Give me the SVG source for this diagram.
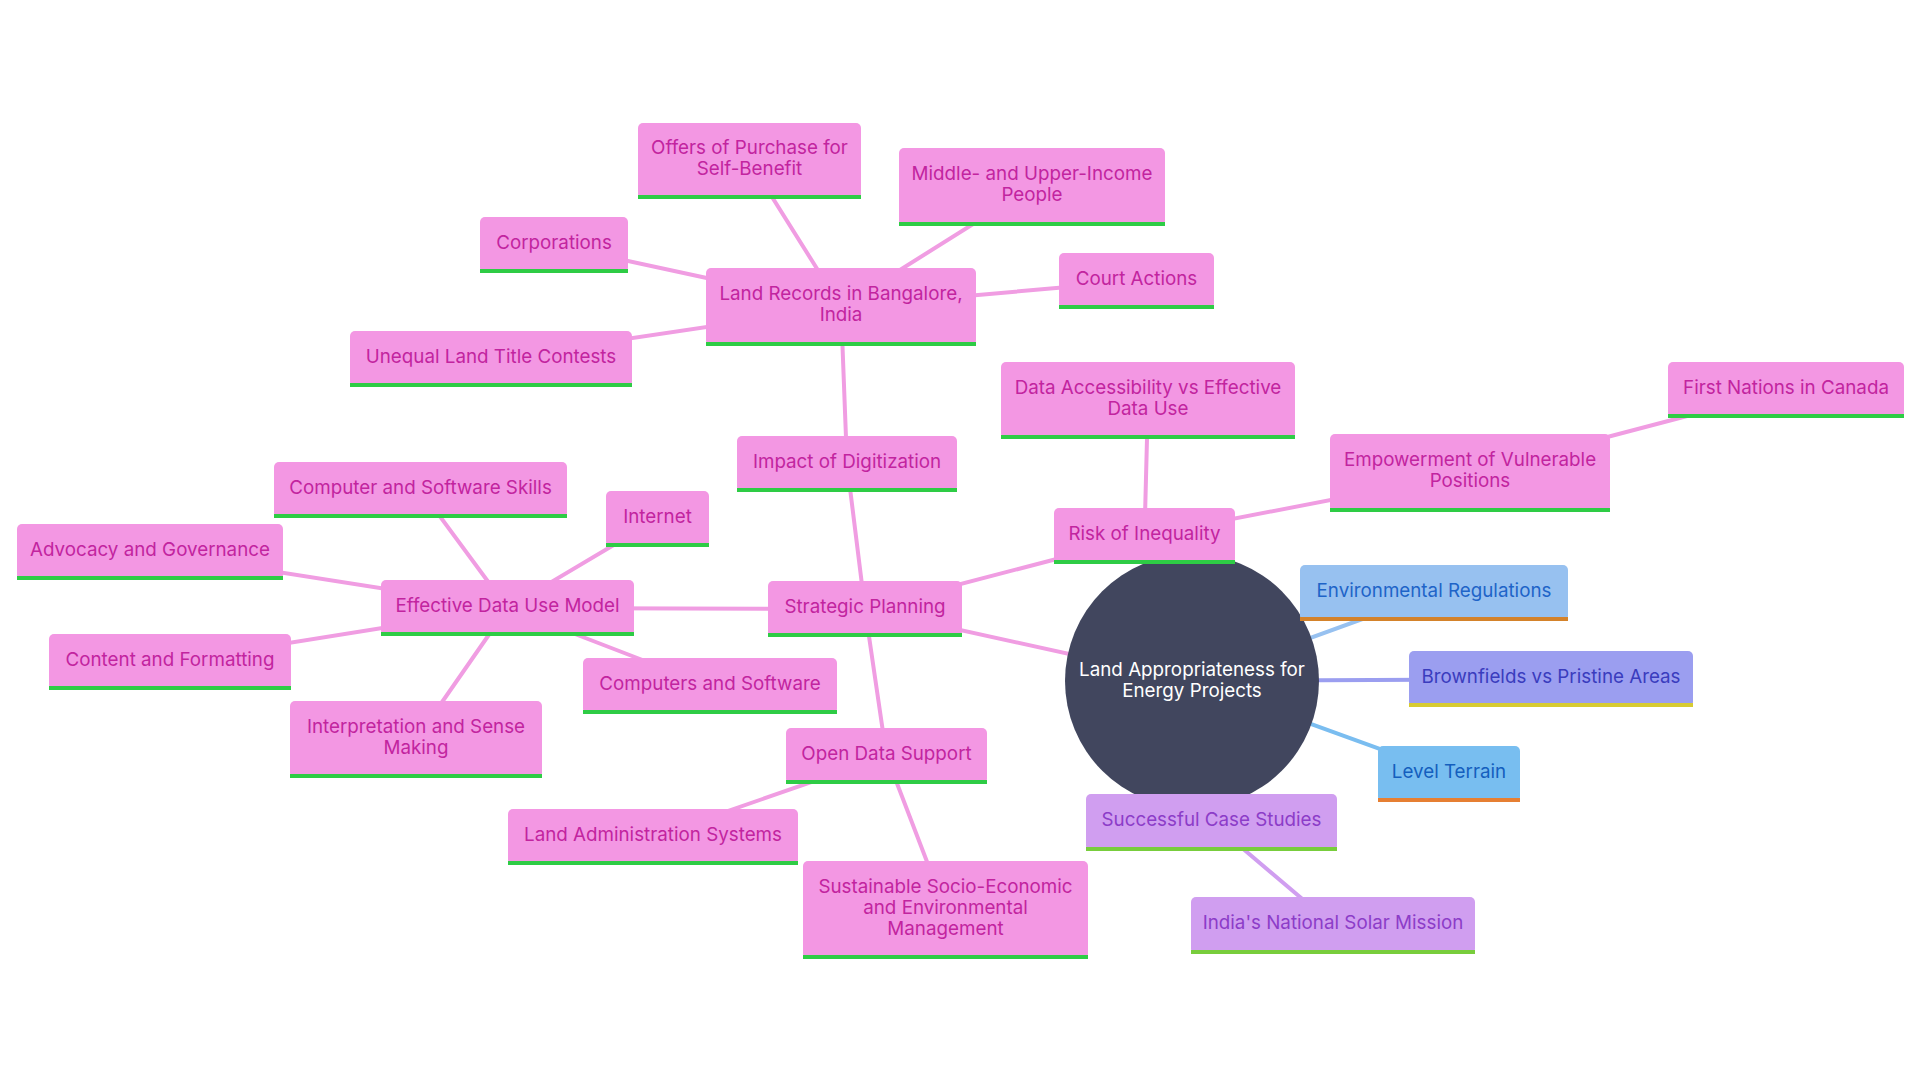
<svg xmlns="http://www.w3.org/2000/svg" width="1920" height="1080" viewBox="0 0 1920 1080">
<style>
text{font-family:Inter,"Noto Sans","Liberation Sans",sans-serif;font-size:18.8px;text-anchor:middle;dominant-baseline:central;transform:translateY(-1px)}
.edges line{stroke-width:4;stroke-linecap:round}
.e-pink{stroke:#F09DE2}
.e-env{stroke:#97C1F0}
.e-brown{stroke:#9B9EF0}
.e-level{stroke:#7ABDF0}
.e-purple{stroke:#D09EF0}
.pink .box{fill:#F397E3}.pink .bar{fill:#2ECC45}.pink text{fill:#C2249F}
.env .box{fill:#97C1F0}.env .bar{fill:#D4822A}.env text{fill:#1E64C8}
.brown .box{fill:#9B9EF0}.brown .bar{fill:#D7CB32}.brown text{fill:#3A3CBE}
.level .box{fill:#78BEF0}.level .bar{fill:#E67F32}.level text{fill:#145FBE}
.purple .box{fill:#D09EF0}.purple .bar{fill:#78CD3C}.purple text{fill:#8C3CC8}
.root circle{fill:#41465E}.root text{fill:#FFFFFF}
</style>
<rect width="1920" height="1080" fill="#FFFFFF"/>
<g id="connectors" class="edges">
<line class="e-pink" x1="1192" y1="681" x2="865" y2="609"/>
<line class="e-env" x1="1192" y1="681" x2="1434" y2="593"/>
<line class="e-brown" x1="1192" y1="681" x2="1551" y2="679"/>
<line class="e-level" x1="1192" y1="681" x2="1449" y2="774"/>
<line class="e-purple" x1="1192" y1="681" x2="1211.5" y2="822"/>
<line class="e-purple" x1="1211.5" y1="822" x2="1333" y2="925"/>
<line class="e-pink" x1="865" y1="609" x2="847" y2="464"/>
<line class="e-pink" x1="865" y1="609" x2="1144.5" y2="536"/>
<line class="e-pink" x1="865" y1="609" x2="507.5" y2="608"/>
<line class="e-pink" x1="865" y1="609" x2="886.5" y2="756"/>
<line class="e-pink" x1="847" y1="464" x2="841" y2="307"/>
<line class="e-pink" x1="841" y1="307" x2="749.5" y2="161"/>
<line class="e-pink" x1="841" y1="307" x2="1032" y2="187"/>
<line class="e-pink" x1="841" y1="307" x2="554" y2="245"/>
<line class="e-pink" x1="841" y1="307" x2="1136.5" y2="281"/>
<line class="e-pink" x1="841" y1="307" x2="491" y2="359"/>
<line class="e-pink" x1="1144.5" y1="536" x2="1148" y2="400"/>
<line class="e-pink" x1="1144.5" y1="536" x2="1470" y2="473"/>
<line class="e-pink" x1="1470" y1="473" x2="1786" y2="390"/>
<line class="e-pink" x1="507.5" y1="608" x2="420.5" y2="490"/>
<line class="e-pink" x1="507.5" y1="608" x2="657.5" y2="519"/>
<line class="e-pink" x1="507.5" y1="608" x2="150" y2="552"/>
<line class="e-pink" x1="507.5" y1="608" x2="170" y2="662"/>
<line class="e-pink" x1="507.5" y1="608" x2="416" y2="739.5"/>
<line class="e-pink" x1="507.5" y1="608" x2="710" y2="686"/>
<line class="e-pink" x1="886.5" y1="756" x2="653" y2="837"/>
<line class="e-pink" x1="886.5" y1="756" x2="945.5" y2="910"/>
</g>
<g id="n-root" class="root">
<circle cx="1192" cy="681" r="127"/>
<text x="1192" y="670.5">Land Appropriateness for</text>
<text x="1192" y="691.5">Energy Projects</text>
</g>
<g id="n-offers" class="pink" transform="translate(638,123)"><rect class="box" width="223" height="76" rx="5"/><rect class="bar" y="72" width="223" height="4"/><text x="111.5" y="25.5">Offers of Purchase for</text><text x="111.5" y="46.5">Self-Benefit</text></g>
<g id="n-middle" class="pink" transform="translate(899,148)"><rect class="box" width="266" height="78" rx="5"/><rect class="bar" y="74" width="266" height="4"/><text x="133" y="26.5">Middle- and Upper-Income</text><text x="133" y="47.5">People</text></g>
<g id="n-corporations" class="pink" transform="translate(480,217)"><rect class="box" width="148" height="56" rx="5"/><rect class="bar" y="52" width="148" height="4"/><text x="74" y="26">Corporations</text></g>
<g id="n-court" class="pink" transform="translate(1059,253)"><rect class="box" width="155" height="56" rx="5"/><rect class="bar" y="52" width="155" height="4"/><text x="77.5" y="26">Court Actions</text></g>
<g id="n-land-records" class="pink" transform="translate(706,268)"><rect class="box" width="270" height="78" rx="5"/><rect class="bar" y="74" width="270" height="4"/><text x="135" y="26.5">Land Records in Bangalore,</text><text x="135" y="47.5">India</text></g>
<g id="n-unequal" class="pink" transform="translate(350,331)"><rect class="box" width="282" height="56" rx="5"/><rect class="bar" y="52" width="282" height="4"/><text x="141" y="26">Unequal Land Title Contests</text></g>
<g id="n-data-access" class="pink" transform="translate(1001,362)"><rect class="box" width="294" height="77" rx="5"/><rect class="bar" y="73" width="294" height="4"/><text x="147" y="26">Data Accessibility vs Effective</text><text x="147" y="47">Data Use</text></g>
<g id="n-first-nations" class="pink" transform="translate(1668,362)"><rect class="box" width="236" height="56" rx="5"/><rect class="bar" y="52" width="236" height="4"/><text x="118" y="26">First Nations in Canada</text></g>
<g id="n-empowerment" class="pink" transform="translate(1330,434)"><rect class="box" width="280" height="78" rx="5"/><rect class="bar" y="74" width="280" height="4"/><text x="140" y="26.5">Empowerment of Vulnerable</text><text x="140" y="47.5">Positions</text></g>
<g id="n-impact" class="pink" transform="translate(737,436)"><rect class="box" width="220" height="56" rx="5"/><rect class="bar" y="52" width="220" height="4"/><text x="110" y="26">Impact of Digitization</text></g>
<g id="n-css" class="pink" transform="translate(274,462)"><rect class="box" width="293" height="56" rx="5"/><rect class="bar" y="52" width="293" height="4"/><text x="146.5" y="26">Computer and Software Skills</text></g>
<g id="n-internet" class="pink" transform="translate(606,491)"><rect class="box" width="103" height="56" rx="5"/><rect class="bar" y="52" width="103" height="4"/><text x="51.5" y="26">Internet</text></g>
<g id="n-risk" class="pink" transform="translate(1054,508)"><rect class="box" width="181" height="56" rx="5"/><rect class="bar" y="52" width="181" height="4"/><text x="90.5" y="26">Risk of Inequality</text></g>
<g id="n-advocacy" class="pink" transform="translate(17,524)"><rect class="box" width="266" height="56" rx="5"/><rect class="bar" y="52" width="266" height="4"/><text x="133" y="26">Advocacy and Governance</text></g>
<g id="n-env" class="env" transform="translate(1300,565)"><rect class="box" width="268" height="56" rx="5"/><rect class="bar" y="52" width="268" height="4"/><text x="134" y="26">Environmental Regulations</text></g>
<g id="n-edum" class="pink" transform="translate(381,580)"><rect class="box" width="253" height="56" rx="5"/><rect class="bar" y="52" width="253" height="4"/><text x="126.5" y="26">Effective Data Use Model</text></g>
<g id="n-strategic" class="pink" transform="translate(768,581)"><rect class="box" width="194" height="56" rx="5"/><rect class="bar" y="52" width="194" height="4"/><text x="97" y="26">Strategic Planning</text></g>
<g id="n-content" class="pink" transform="translate(49,634)"><rect class="box" width="242" height="56" rx="5"/><rect class="bar" y="52" width="242" height="4"/><text x="121" y="26">Content and Formatting</text></g>
<g id="n-brownfields" class="brown" transform="translate(1409,651)"><rect class="box" width="284" height="56" rx="5"/><rect class="bar" y="52" width="284" height="4"/><text x="142" y="26">Brownfields vs Pristine Areas</text></g>
<g id="n-computers" class="pink" transform="translate(583,658)"><rect class="box" width="254" height="56" rx="5"/><rect class="bar" y="52" width="254" height="4"/><text x="127" y="26">Computers and Software</text></g>
<g id="n-interpretation" class="pink" transform="translate(290,701)"><rect class="box" width="252" height="77" rx="5"/><rect class="bar" y="73" width="252" height="4"/><text x="126" y="26">Interpretation and Sense</text><text x="126" y="47">Making</text></g>
<g id="n-open-data" class="pink" transform="translate(786,728)"><rect class="box" width="201" height="56" rx="5"/><rect class="bar" y="52" width="201" height="4"/><text x="100.5" y="26">Open Data Support</text></g>
<g id="n-level" class="level" transform="translate(1378,746)"><rect class="box" width="142" height="56" rx="5"/><rect class="bar" y="52" width="142" height="4"/><text x="71" y="26">Level Terrain</text></g>
<g id="n-successful" class="purple" transform="translate(1086,794)"><rect class="box" width="251" height="57" rx="5"/><rect class="bar" y="53" width="251" height="4"/><text x="125.5" y="26.5">Successful Case Studies</text></g>
<g id="n-land-admin" class="pink" transform="translate(508,809)"><rect class="box" width="290" height="56" rx="5"/><rect class="bar" y="52" width="290" height="4"/><text x="145" y="26">Land Administration Systems</text></g>
<g id="n-sustainable" class="pink" transform="translate(803,861)"><rect class="box" width="285" height="98" rx="5"/><rect class="bar" y="94" width="285" height="4"/><text x="142.5" y="26">Sustainable Socio-Economic</text><text x="142.5" y="47">and Environmental</text><text x="142.5" y="68">Management</text></g>
<g id="n-india" class="purple" transform="translate(1191,897)"><rect class="box" width="284" height="57" rx="5"/><rect class="bar" y="53" width="284" height="4"/><text x="142" y="26.5">India's National Solar Mission</text></g>
</svg>
